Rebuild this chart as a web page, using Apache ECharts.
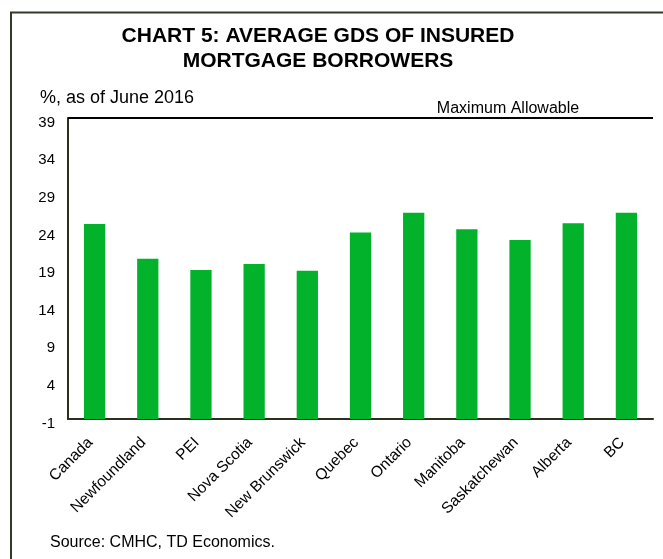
<!DOCTYPE html>
<html>
<head>
<meta charset="utf-8">
<script src="https://cdn.jsdelivr.net/npm/echarts@6/dist/echarts.min.js"></script>
<style>
  html, body { margin: 0; padding: 0; background: #ffffff; }
  #chart { width: 663px; height: 559px; }
</style>
</head>
<body>
<div id="chart"></div>
<script>
// ---- data ----
const categories = ['Canada', 'Newfoundland', 'PEI', 'Nova Scotia', 'New Brunswick', 'Quebec', 'Ontario', 'Manitoba', 'Saskatchewan', 'Alberta', 'BC'];
const gdsValues = [24.9, 20.3, 18.8, 19.6, 18.7, 23.8, 26.4, 24.2, 22.8, 25.0, 26.4];
const maxAllowable = 39;
const yMin = -1;
const yMax = 39;
const yTicks = [-1, 4, 9, 14, 19, 24, 29, 34, 39];

const titleText = 'CHART 5: AVERAGE GDS OF INSURED\nMORTGAGE BORROWERS';
const subtitleText = '%, as of June 2016';
const sourceText = 'Source: CMHC, TD Economics.';
const maxLabelText = 'Maximum Allowable';

const FONT = '"Liberation Sans", Arial, sans-serif';
const GREEN = '#02b22a';
const AXIS = '#2a2f1e';

const barData = categories.map((c, i) => [i, gdsValues[i]]);

// bars in the original start at the axis floor (yMin), so draw them from yMin
function renderBar(params, api) {
  const idx = api.value(0);
  const top = api.coord([idx, api.value(1)]);
  const bottom = api.coord([idx, yMin]);
  const bandWidth = api.size([1, 0])[0];
  const w = bandWidth * 0.4;
  return {
    type: 'rect',
    shape: { x: top[0] - w / 2, y: top[1], width: w, height: bottom[1] - top[1] },
    style: { fill: GREEN }
  };
}

const chart = echarts.init(document.getElementById('chart'), null, { renderer: 'canvas' });
chart.setOption({
  animation: false,
  backgroundColor: '#ffffff',
  textStyle: { fontFamily: FONT },
  grid: { left: 68, right: 10, top: 118, bottom: 140, containLabel: false },
  xAxis: {
    type: 'category',
    data: categories,
    axisLine: { onZero: false, lineStyle: { color: AXIS, width: 2 } },
    axisTick: { show: false },
    axisLabel: { interval: 0, rotate: 45, fontSize: 15.5, color: '#000', fontFamily: FONT, margin: 17, padding: [0, 6, 0, 0] }
  },
  yAxis: {
    type: 'value',
    min: yMin,
    max: yMax,
    splitLine: { show: false },
    axisLine: { show: true, lineStyle: { color: AXIS, width: 2 } },
    axisTick: { show: false },
    axisLabel: { customValues: yTicks, fontSize: 15, color: '#000', fontFamily: FONT, margin: 13, verticalAlign: 'top', lineHeight: 9 }
  },
  series: [
    {
      type: 'custom',
      name: 'GDS',
      data: barData,
      encode: { x: 0, y: 1 },
      renderItem: renderBar,
      z: 2
    },
    {
      type: 'line',
      name: 'Maximum Allowable',
      data: [],
      markLine: {
        silent: true,
        symbol: ['none', 'none'],
        label: { show: false },
        lineStyle: { color: '#000', width: 2, type: 'solid' },
        data: [{ yAxis: maxAllowable }]
      }
    }
  ],
  graphic: [
    {
      type: 'rect',
      shape: { x: 11, y: 12.5, width: 720, height: 620 },
      style: { fill: 'none', stroke: '#2f3b24', lineWidth: 2 },
      silent: true
    },
    {
      type: 'text',
      x: 318, y: 24,
      style: { text: titleText, font: 'bold 21px ' + FONT, fill: '#000', textAlign: 'center', lineHeight: 25 }
    },
    {
      type: 'text',
      x: 40, y: 89,
      style: { text: subtitleText, font: '18px ' + FONT, fill: '#000' }
    },
    {
      type: 'text',
      x: 508, y: 101,
      style: { text: maxLabelText, font: '16px ' + FONT, fill: '#000', textAlign: 'center' }
    },
    {
      type: 'text',
      x: 50, y: 535,
      style: { text: sourceText, font: '16px ' + FONT, fill: '#000' }
    }
  ]
});
</script>
</body>
</html>
